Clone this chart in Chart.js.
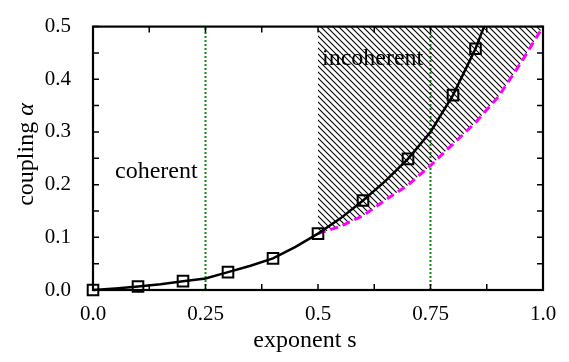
<!DOCTYPE html>
<html>
<head>
<meta charset="utf-8">
<script src="https://cdn.jsdelivr.net/npm/chart.js@4"></script>
<style>
  body { margin: 0; background: #fff; }
  canvas { display: block; }
</style>
</head>
<body>
<canvas id="chart" width="569" height="362"></canvas>
<script>
// simulated points (squares)
const markerS = [0, 0.1, 0.2, 0.3, 0.4, 0.5, 0.6, 0.7, 0.8, 0.85];
const markerAlpha = [0, 0.0067, 0.0168, 0.034, 0.060, 0.107, 0.170, 0.249, 0.370, 0.458];

// solid phase boundary
const curveS = [0, 0.05, 0.1, 0.15, 0.2, 0.25, 0.3, 0.35, 0.4, 0.45, 0.5, 0.55, 0.6, 0.65, 0.7, 0.75, 0.8, 0.85, 0.869];
const curveAlpha = [0, 0.003, 0.0067, 0.011, 0.0168, 0.022, 0.034, 0.046, 0.060, 0.082, 0.107, 0.136, 0.170, 0.207, 0.249, 0.300, 0.370, 0.458, 0.5];

// dashed lower bound of the incoherent region
const boundS = [0.5, 0.55, 0.6, 0.65, 0.7, 0.75, 0.8, 0.85, 0.9, 0.95, 1.0];
const boundAlpha = [0.107, 0.121, 0.141, 0.171, 0.199, 0.236, 0.277, 0.318, 0.366, 0.43, 0.5];

// dotted verticals
const markS = [0.25, 0.75];

const xTickLabels = ['0.0', '0.25', '0.5', '0.75', '1.0'];
const yTickLabels = ['0.0', '0.1', '0.2', '0.3', '0.4', '0.5'];

const serif = "'Liberation Serif', 'DejaVu Serif', serif";
Chart.defaults.font.family = serif;
Chart.defaults.font.size = 21;
Chart.defaults.color = '#000';

// hatch pattern "\\\\"
const pc = document.createElement('canvas');
pc.width = 6; pc.height = 6;
const pctx = pc.getContext('2d');
pctx.strokeStyle = '#000';
pctx.lineWidth = 1.1;
for (const o of [-6, 0, 6]) {
  pctx.beginPath();
  pctx.moveTo(o - 1, -1);
  pctx.lineTo(o + 7, 7);
  pctx.stroke();
}
const hatch = document.getElementById('chart').getContext('2d').createPattern(pc, 'repeat');

const zip = (xs, ys) => xs.map((x, i) => ({x: x, y: ys[i]}));

const datasets = [
  {
    data: zip(markerS, markerAlpha),
    showLine: false,
    pointStyle: 'rect',
    pointRadius: 7.5,
    pointBorderWidth: 2,
    pointBorderColor: '#000',
    pointBackgroundColor: 'rgba(0,0,0,0)'
  },
  {
    data: zip(curveS, curveAlpha),
    borderColor: '#000',
    borderWidth: 2.5,
    pointRadius: 0
  },
  {
    data: zip(boundS, boundAlpha),
    borderColor: '#ff00ff',
    borderWidth: 3,
    borderDash: [8, 5],
    pointRadius: 0,
    fill: 'end',
    backgroundColor: hatch
  }
];
markS.forEach(s => datasets.push({
  data: [{x: s, y: 0}, {x: s, y: 0.5}],
  borderColor: '#108a10',
  borderWidth: 2,
  borderDash: [2, 2],
  pointRadius: 0
}));

// frame, inward ticks, labels
const framePlugin = {
  id: 'frame',
  afterDatasetsDraw(chart) {
    const ctx = chart.ctx;
    const a = chart.chartArea;
    const xs = chart.scales.x, ys = chart.scales.y;
    ctx.save();
    ctx.strokeStyle = '#000';
    ctx.lineWidth = 1.5;
    ctx.beginPath();
    for (let v = 0.125; v < 1; v += 0.125) {
      const px = xs.getPixelForValue(v);
      ctx.moveTo(px, a.bottom); ctx.lineTo(px, a.bottom - 6);
      ctx.moveTo(px, a.top); ctx.lineTo(px, a.top + 6);
    }
    for (let v = 0.05; v < 0.5; v += 0.05) {
      const py = ys.getPixelForValue(v);
      ctx.moveTo(a.left, py); ctx.lineTo(a.left + 6, py);
      ctx.moveTo(a.right, py); ctx.lineTo(a.right - 6, py);
    }
    ctx.stroke();
    ctx.lineWidth = 2.2;
    ctx.strokeRect(a.left, a.top, a.right - a.left, a.bottom - a.top);

    ctx.fillStyle = '#000';
    ctx.textBaseline = 'alphabetic';
    ctx.textAlign = 'left';
    ctx.font = '24px ' + serif;
    ctx.fillText('coherent', 115, 178);
    ctx.fillText('incoherent', 322, 65);

    ctx.textAlign = 'center';
    ctx.fillText('exponent s', 305, 347);

    ctx.translate(33, 154.5);
    ctx.rotate(-Math.PI / 2);
    ctx.textAlign = 'left';
    const t1 = 'coupling ';
    ctx.font = '24px ' + serif;
    const w1 = ctx.measureText(t1).width;
    ctx.font = 'italic 24px ' + serif;
    const w2 = ctx.measureText('\u03b1').width;
    let x0 = -(w1 + w2) / 2;
    ctx.font = '24px ' + serif;
    ctx.fillText(t1, x0, 0);
    ctx.font = 'italic 24px ' + serif;
    ctx.fillText('\u03b1', x0 + w1, 0);
    ctx.restore();
  }
};

new Chart(document.getElementById('chart'), {
  type: 'line',
  data: { datasets: datasets },
  plugins: [framePlugin],
  options: {
    responsive: false,
    animation: false,
    clip: false,
    layout: { padding: { top: 7, right: 26, left: 0, bottom: 0 } },
    plugins: { legend: { display: false }, tooltip: { enabled: false } },
    scales: {
      x: {
        type: 'linear', min: 0, max: 1,
        grid: { display: false },
        border: { display: false },
        afterFit: s => { s.height = 72; },
        ticks: {
          stepSize: 0.25, padding: 4, color: '#000', maxRotation: 0,
          font: { family: serif, size: 21 },
          callback: (v, i) => xTickLabels[i]
        }
      },
      y: {
        type: 'linear', min: 0, max: 0.5,
        grid: { display: false },
        border: { display: false },
        afterFit: s => { s.width = 93; },
        ticks: {
          stepSize: 0.1, padding: 14, color: '#000',
          font: { family: serif, size: 21 },
          callback: (v, i) => yTickLabels[i]
        }
      }
    }
  }
});
</script>
</body>
</html>
